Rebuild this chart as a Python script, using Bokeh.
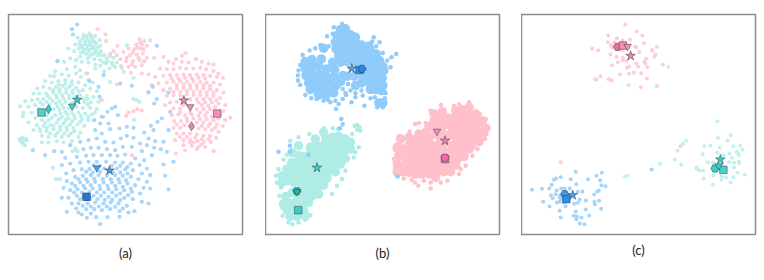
from bokeh.plotting import figure
from bokeh.layouts import row
from bokeh.models import Range1d, Title
from bokeh.embed import file_html
from bokeh.resources import INLINE

# ---------- panel (a): values read in reference zoom units ----------
a_teal = [(268,85),(250,90),(285,92),(232,97),(262,100),(278,103),(298,105),(240,108),(255,110),(270,112),(288,115),(225,118),(245,122),(262,122),(280,124),(300,122),(235,130),(252,133),(268,134),(285,135),(302,138),(205,130),(222,138),(242,142),(258,146),(275,148),(292,150),(312,150),(330,145),(240,155),(262,160),(282,162),(300,165),(320,160),(340,158),(350,172),(335,172),(318,175),(300,182),(285,178),(345,185),(328,190),(312,198),(265,172),(245,170),(228,165),(210,160),(192,170),(172,168),(225,185),(200,192),(165,198),(240,195),(262,205),(285,190),
(150,212),(162,213),(185,208),(205,212),(228,205),(242,215),(265,225),(135,228),(155,232),(175,228),(195,225),(215,228),(235,232),(255,240),(278,232),(112,250),(130,245),(148,250),(168,245),(188,242),(208,245),(228,248),(248,255),(270,250),(290,258),(100,265),(118,265),(138,265),(158,262),(178,260),(198,262),(218,265),(240,270),(260,272),(280,275),(75,288),(95,285),(112,282),(130,282),(150,280),(170,278),(190,280),(208,280),(252,290),(272,292),(295,290),(60,303),(85,305),(105,300),(128,298),(148,298),(168,295),(185,298),(205,310),(228,305),(248,308),(270,308),(290,312),(70,322),(95,322),(140,330),(160,312),(178,315),(195,320),(215,322),(235,322),(255,325),(275,328),(68,333),(105,338),(125,345),(145,345),(165,330),(185,335),(205,340),(225,340),(245,342),(265,345),(85,352),(110,360),(130,362),(150,360),(170,352),(190,355),(210,358),(232,358),(252,362),(100,375),(120,378),(140,378),(160,372),(180,375),(200,375),(222,378),(240,382),(125,392),(145,395),(165,392),(185,395),(205,392),(125,412),(145,412),(170,408),(190,412),(235,395),(215,408),
(58,402),(66,398),(76,400),(62,408),(70,408),(80,405),(68,416),(74,420),(226,430),(218,438),(232,438),(158,488),(180,522),(168,522),(400,282),(410,285),(418,290),(380,120),(450,105),(370,200),(400,218),(330,230),(362,182),(402,344),(310,335)]
a_teal_dense = [(258,93),(274,96),(248,100),(266,108),(282,110),(238,118),(254,116),(272,120),(292,128),(246,128),(260,130),(276,130),(294,142),(250,140),(266,140),(282,144),(302,150),(268,154),(322,168),(338,180),(310,172),(176,238),(196,236),(214,238),(160,255),(178,252),(198,252),(218,256),(236,258),(142,272),(168,270),(186,270),(206,272),(226,275),(250,280),(120,292),(140,290),(158,288),(178,288),(196,290),(216,292),(262,282),(116,312),(172,305),(190,308),(180,325),(202,328),(222,332),(242,332),(264,335),(135,352),(155,338),(176,342),(196,345),(216,348),(240,350),(118,370),(140,368),(160,362),(180,364),(200,366),(220,368),(150,385),(172,384),(192,385),(212,385),(284,322),(262,298)]
a_pink = [(292,72),(272,92),(316,88),(318,108),(352,122),(340,138),(330,152),(350,150),(418,102),(432,108),(408,118),(425,118),(440,122),(385,130),(402,132),(420,130),(370,140),(390,150),(410,148),(428,145),(360,162),(378,168),(398,168),(418,165),(440,158),(462,158),(385,185),(405,185),(425,180),(365,188),(392,203),(425,205),(445,208),(490,155),(528,162),(545,152),(556,144),(588,162),(505,170),(520,175),(545,170),(565,172),(605,170),(625,175),(640,178),(480,190),(500,192),(520,192),(540,188),(558,190),(580,190),(600,188),(618,192),(640,198),(655,205),(465,215),(490,212),(510,210),(530,210),(550,208),(570,210),(590,208),(610,210),(630,212),(650,215),(668,218),(455,240),(475,235),(500,232),(520,230),(540,228),(560,230),(580,228),(600,230),(620,232),(640,232),(660,238),(490,255),(510,250),(530,250),(550,248),(570,250),(590,250),(610,250),(630,252),(650,255),(670,262),(500,272),(520,270),(540,270),(560,268),(580,270),(600,270),(620,272),(640,272),(660,278),(510,292),(530,290),(595,292),(615,292),(635,292),(655,295),(675,300),(495,300),(520,310),(540,310),(590,312),(610,312),(630,312),(670,318),(690,338),(412,312),(400,318),(385,322),(425,316),(378,332),(515,330),(535,328),(555,330),(575,328),(595,332),(615,332),(635,335),(655,340),(675,345),(522,348),(542,348),(562,348),(590,352),(610,352),(630,355),(650,358),(668,362),(520,368),(540,368),(595,370),(615,372),(635,375),(655,380),(530,385),(550,385),(570,385),(590,388),(610,392),(630,392),(648,398),(525,405),(550,405),(570,405),(592,408),(612,410),(632,410),(550,420),(575,422),(595,425),(615,425),(590,432),(640,438),(555,436),(527,445),(395,450),(305,285),(258,205),(350,238),(444,260)]
a_pink_dense = [(420,112),(412,128),(430,132),(398,142),(415,158),(432,168),(395,178),(380,158),(515,220),(535,220),(555,218),(575,220),(595,218),(615,220),(530,240),(550,238),(570,240),(590,240),(610,240),(630,242),(520,260),(540,260),(560,258),(580,260),(600,260),(620,262),(640,262),(550,280),(570,282),(590,282),(610,282),(630,282),(648,285),(550,300),(570,322),(605,300),(625,302),(645,305),(540,320),(600,322),(620,322),(640,345),(560,340),(580,340),(600,342),(620,342),(660,328),(530,358),(552,360),(605,362),(625,362),(645,368),(575,368),(585,398),(605,402),(625,402),(560,395),(540,395),(570,412),(604,418),(580,412)]
a_blue = [(231,58),(215,72),(218,88),(172,168),(268,228),(310,210),(295,245),(298,275),(360,235),(395,242),(458,245),(445,262),(505,262),(470,282),(462,295),(335,310),(345,305),(322,320),(305,335),(282,345),(300,355),(325,355),(353,330),(285,375),(305,385),(330,372),(358,370),(380,365),(400,368),(432,382),(452,362),(472,350),(485,340),(510,320),(505,375),(460,375),(445,400),(465,408),(490,410),(240,410),(265,405),(290,400),(315,410),(340,412),(362,400),(380,392),(400,398),(420,415),(440,420),(462,428),(482,432),(500,440),(98,435),(135,450),(162,438),(185,440),(210,420),(250,432),(272,428),(295,428),(320,432),(345,435),(368,425),(395,425),(425,438),(455,450),(520,470),(490,478),(495,512),(505,553),(195,458),(230,455),(258,452),(280,450),(305,450),(330,450),(352,452),(375,448),(405,460),(432,465),(185,480),(210,475),(240,472),(265,470),(290,470),(318,470),(345,472),(368,472),(392,475),(418,480),(440,490),(198,505),(220,495),(245,492),(268,492),(312,490),(350,490),(375,492),(398,495),(425,505),(450,510),(200,528),(225,515),(248,512),(272,510),(295,510),(320,512),(345,510),(368,512),(392,515),(415,522),(440,530),(190,548),(215,535),(240,532),(262,530),(285,530),(310,532),(335,532),(358,532),(382,535),(405,540),(430,548),(450,550),(185,578),(210,555),(232,552),(255,550),(278,550),(300,552),(325,552),(348,552),(372,555),(395,560),(420,565),(205,578),(230,572),(280,572),(302,572),(325,575),(348,572),(372,578),(398,582),(425,590),(445,595),(215,595),(235,595),(262,595),(285,592),(310,595),(332,592),(355,595),(380,602),(200,620),(235,622),(258,612),(282,612),(305,615),(330,612),(358,618),(385,622),(403,618),(260,638),(288,636),(322,636),(358,635),(300,657),(470,122)]
a_blue_dense = [(280,480),(300,482),(335,482),(360,482),(382,485),(258,500),(278,502),(300,500),(338,502),(360,502),(382,505),(235,522),(258,522),(282,520),(308,522),(332,522),(355,522),(378,525),(225,542),(250,542),(272,540),(298,542),(322,542),(345,542),(368,545),(392,550),(222,562),(245,562),(268,560),(290,562),(312,562),(336,562),(360,565),(384,570),(240,582),(270,582),(292,582),(314,584),(336,584),(360,585),(228,610),(248,602),(272,604),(296,604),(320,604),(345,605),(368,610),(245,628),(272,625)]

a_marks = {
    "square": [(124,322,"#48d2ca"),(651,325,"#f78cb8"),(259,575,"#3d97ef")],
    "diamond": [(145,312,"#34c8c0"),(574,363,"#f57eb0")],
    "hex": [(259,575,"#1f7be3")],
    "inverted_triangle": [(216,303,"#48d2ca"),(570,305,"#f78cb8"),(290,488,"#4a9ef0")],
    "star": [(231,284,"#34c8c0"),(551,286,"#f57eb0"),(328,496,"#3d97ef")],
}

# ---------- panel (b) ----------
b_blue_core = [(255,72),(270,70),(245,90),(265,90),(285,88),(300,95),(240,110),(260,110),(280,108),(300,112),(318,118),(340,122),(205,128),(242,130),(262,128),(282,130),(302,130),(322,132),(345,135),(362,145),(250,150),(272,150),(292,150),(312,150),(332,150),(352,155),(372,165),(150,168),(170,162),(198,160),(232,170),(256,170),(276,168),(300,170),(320,170),(340,172),(360,172),(382,182),(150,188),(170,185),(190,180),(214,190),(238,192),(262,210),(322,212),(342,190),(362,192),(385,195),(152,210),(172,208),(192,205),(212,212),(236,212),(256,228),(276,212),(296,212),(318,232),(340,210),(362,212),(380,218),(160,232),(180,230),(200,230),(222,232),(242,240),(300,240),(342,232),(365,232),(382,240),(165,252),(186,250),(206,250),(228,252),(345,252),(362,252),(378,255),(190,268),(212,268),(235,262),(370,292),(382,292)]
b_blue_fringe = [(260,55),(235,65),(232,85),(215,92),(355,95),(372,110),(362,122),(382,142),(408,155),(422,145),(395,165),(163,135),(195,118),(180,128),(220,122),(128,210),(135,178),(128,225),(135,238),(150,268),(168,278),(184,280),(218,282),(240,285),(225,290),(250,295),(242,310),(262,280),(288,290),(300,275),(322,270),(327,300),(345,278),(358,275),(388,278),(390,262),(365,305),(382,305),(258,340),(262,356),(254,368),(70,438),(104,420),(160,447),(105,438),(426,512),(278,235),(262,250),(285,255),(300,262),(318,255),(270,262),(405,185),(350,108),(142,148),(130,195),(205,285),(272,268)]
b_pink_core = [(640,305),(620,312),(600,315),(660,325),(640,325),(620,330),(600,332),(578,338),(560,318),(535,325),(680,345),(660,345),(640,345),(620,350),(600,352),(580,358),(560,360),(535,345),(690,368),(670,365),(650,365),(630,370),(610,372),(590,378),(520,362),(680,388),(660,385),(640,388),(620,392),(600,398),(580,388),(510,380),(490,385),(670,408),(650,408),(630,412),(610,418),(590,420),(520,400),(500,405),(478,402),(460,395),(640,430),(620,435),(600,440),(580,440),(560,425),(540,420),(520,420),(500,425),(480,422),(460,418),(435,400),(625,452),(605,460),(585,462),(540,440),(520,440),(500,445),(480,442),(460,440),(440,430),(425,425),(600,478),(580,482),(550,478),(530,460),(510,465),(490,465),(470,462),(450,458),(430,450),(585,498),(565,498),(545,498),(525,482),(505,485),(485,485),(465,480),(445,478),(425,475),(520,505),(500,505),(480,505),(460,500),(440,498),(540,515),(425,500),(555,338),(570,348),(558,378),(540,365),(555,400),(538,385),(570,410),(590,440),(560,445),(545,458),(570,462),(565,478)]
b_pink_fringe = [(640,290),(610,296),(595,300),(556,298),(525,315),(532,320),(672,325),(690,340),(697,366),(692,385),(688,400),(665,430),(655,425),(490,352),(478,355),(510,352),(462,378),(430,392),(440,395),(418,432),(415,460),(418,490),(425,510),(445,518),(468,522),(488,540),(525,548),(505,525),(525,530),(555,530),(575,525),(610,505),(630,480),(650,450),(615,490),(478,530)]
b_teal_core = [(250,392),(232,395),(212,398),(270,400),(285,410),(265,418),(245,415),(225,418),(205,418),(185,420),(165,425),(285,430),(265,438),(245,435),(225,438),(205,438),(185,440),(165,445),(145,452),(270,458),(250,455),(230,458),(210,458),(190,460),(170,465),(150,472),(130,470),(255,475),(235,478),(215,478),(195,480),(175,484),(155,490),(135,490),(115,492),(240,498),(220,498),(200,500),(180,505),(160,510),(140,510),(120,512),(100,510),(215,518),(195,520),(175,525),(155,530),(135,530),(115,530),(95,525),(205,538),(185,545),(165,550),(145,550),(190,565),(170,570),(150,570),(130,575),(112,560),(92,572),(160,590),(138,595),(118,592),(98,590),(85,595),(95,612),(115,612),(145,615),(105,632),(125,632),(150,630),(130,450),(110,470),(95,490),(80,510),(80,530),(130,420),(110,440),(205,380),(180,400)]
b_teal_fringe = [(305,358),(298,360),(312,365),(315,375),(305,372),(162,385),(205,368),(232,368),(248,370),(290,385),(130,395),(105,405),(95,448),(85,462),(115,445),(70,490),(62,510),(65,530),(78,545),(72,570),(80,605),(82,630),(100,650),(112,655),(130,650),(150,642),(165,628),(230,565),(245,540),(260,520),(270,495),(295,455),(310,425),(300,440)]

b_marks = {
    "star": [(289,189,"#4aa2f2"),(568,405,"#ee7eb0"),(185,486,"#38cdc5")],
    "square": [(312,193,"#2f8ce8"),(568,460,"#f57eb0"),(129,613,"#38cdc5")],
    "hex": [(320,190,"#2a85e5"),(568,456,"#f06aa8"),(125,556,"#1fb5ad")],
    "inverted_triangle": [(544,377,"#f78cb8"),(125,558,"#1fb5ad")],
}

# ---------- panel (c) ----------
c_pink = [(344,58),(378,79),(293,91),(395,91),(319,99),(292,111),(336,106),(358,103),(311,111),(400,114),(302,120),(305,126),(373,124),(376,126),(438,125),(245,131),(263,135),(424,134),(425,137),(335,135),(386,141),(300,148),(434,148),(431,155),(318,155),(406,161),(337,158),(336,165),(322,171),(347,167),(401,170),(404,175),(377,175),(304,180),(456,178),(355,184),(349,188),(383,185),(410,186),(328,208),(355,206),(370,203),(392,204),(270,213),(254,222),(258,223),(294,222),(303,225),(409,220),(391,246),(438,243),(151,471),(509,423)]
c_teal = [(472,185),(354,240),(619,348),(659,390),(621,398),(650,406),(526,407),(516,416),(580,423),(598,421),(626,427),(667,423),(688,421),(694,433),(500,437),(619,442),(677,440),(681,445),(683,450),(575,447),(655,445),(637,450),(663,458),(492,463),(511,479),(447,476),(591,471),(606,473),(654,471),(669,473),(683,470),(684,474),(631,478),(669,487),(557,487),(557,491),(565,496),(577,496),(680,502),(701,508),(607,511),(632,513),(645,517),(667,516),(578,520),(631,524),(658,532),(606,539),(343,514),(351,512)]
c_blue = [(196,500),(274,503),(258,512),(131,524),(137,520),(151,516),(181,522),(233,522),(269,525),(198,537),(124,539),(273,540),(285,543),(65,554),(95,551),(117,550),(152,550),(163,551),(178,550),(139,556),(202,560),(216,559),(261,559),(265,556),(122,570),(136,567),(150,570),(148,576),(251,568),(127,579),(152,582),(175,580),(208,583),(226,586),(266,587),(99,590),(140,592),(148,590),(160,592),(202,593),(191,596),(252,590),(253,597),(118,604),(166,603),(272,611),(226,613),(148,617),(196,619),(236,631),(190,632),(199,634),(213,638),(198,642),(151,637),(208,655),(222,657),(423,493)]

c_marks = {
    "hex": [(321,125,"#f06aa8"),(163,567,"#3d97ef"),(612,490,"#38cdc5")],
    "square": [(337,121,"#f78cb8"),(168,582,"#2f8ce8"),(637,494,"#48d2ca")],
    "inverted_triangle": [(351,124,"#f78cb8"),(623,482,"#38cdc5")],
    "star": [(360,152,"#f57eb0"),(187,570,"#4a9ef0"),(628,463,"#38cdc5")],
}

captions = {"a": "(a)", "b": "(b)", "c": "(c)"}

# ---------- styles ----------
TEAL_A, PINK_A, BLUE_A = "#b4ece8", "#ffc6d2", "#9ed3fb"
TEAL_B, PINK_B, BLUE_B = "#b0ece6", "#ffbfcb", "#8fcbfb"
TEAL_C, PINK_C, BLUE_C = "#c2f0ec", "#ffcdd6", "#a4d6fb"
FRAME = "#8c8c8c"


def panel(xr, yr, w, left, top, right, bottom, cap, standoff):
    p = figure(width=w, height=top + 220 + bottom, min_border_left=left, min_border_top=top,
               min_border_right=right, min_border_bottom=bottom,
               x_range=Range1d(*xr), y_range=Range1d(*yr),
               output_backend="svg", toolbar_location=None, background_fill_color="white")
    p.axis.visible = False
    p.grid.visible = False
    p.outline_line_color = FRAME
    p.outline_line_width = 1.5
    p.add_layout(Title(text=cap, align="center", text_font="Lato", text_font_size="13px",
                       text_font_style="normal", text_color="#222222", standoff=standoff), "below")
    return p


def dots(p, pts, color, size, alpha=0.9):
    p.scatter([q[0] for q in pts], [q[1] for q in pts], size=size, color=color,
              alpha=alpha, line_width=0)


def marks(p, table, size=7.5):
    for kind, rows in table.items():
        p.scatter([r[0] for r in rows], [r[1] for r in rows], marker=kind,
                  size=size * {"star": 1.35, "diamond": 1.2, "hex": 1.12}.get(kind, 1.0),
                  fill_color=[r[2] for r in rows], line_color="#3a4a55",
                  line_width=0.7, line_alpha=0.8)


pa = panel((25, 727), (688, 28), 265, 8, 14, 23, 36, captions["a"], 17)
dots(pa, a_teal + a_teal_dense, TEAL_A, 4.2, 0.85)
dots(pa, a_pink + a_pink_dense, PINK_A, 4.2, 0.85)
dots(pa, a_blue + a_blue_dense, BLUE_A, 4.2, 0.9)
marks(pa, a_marks)

pb = panel((31, 731), (686, 27), 256, 0, 14, 22, 36, captions["b"], 16)
dots(pb, b_teal_core, TEAL_B, 9.5, 1)
dots(pb, b_pink_core, PINK_B, 9.5, 1)
dots(pb, b_blue_core, BLUE_B, 9.5, 1)
dots(pb, b_teal_fringe, TEAL_B, 4.5, 1)
dots(pb, b_pink_fringe, PINK_B, 4.5, 1)
dots(pb, b_blue_fringe, BLUE_B, 4.5, 1)
marks(pb, b_marks)

pc = panel((34, 733), (688, 28), 236, 0, 14, 2, 36, captions["c"], 11)
dots(pc, c_teal, TEAL_C, 4, 1)
dots(pc, c_pink, PINK_C, 4, 1)
dots(pc, c_blue, BLUE_C, 4, 1)
marks(pc, c_marks)

layout = row(pa, pb, pc, spacing=0)
open("out.html", "w").write(file_html(layout, INLINE))
